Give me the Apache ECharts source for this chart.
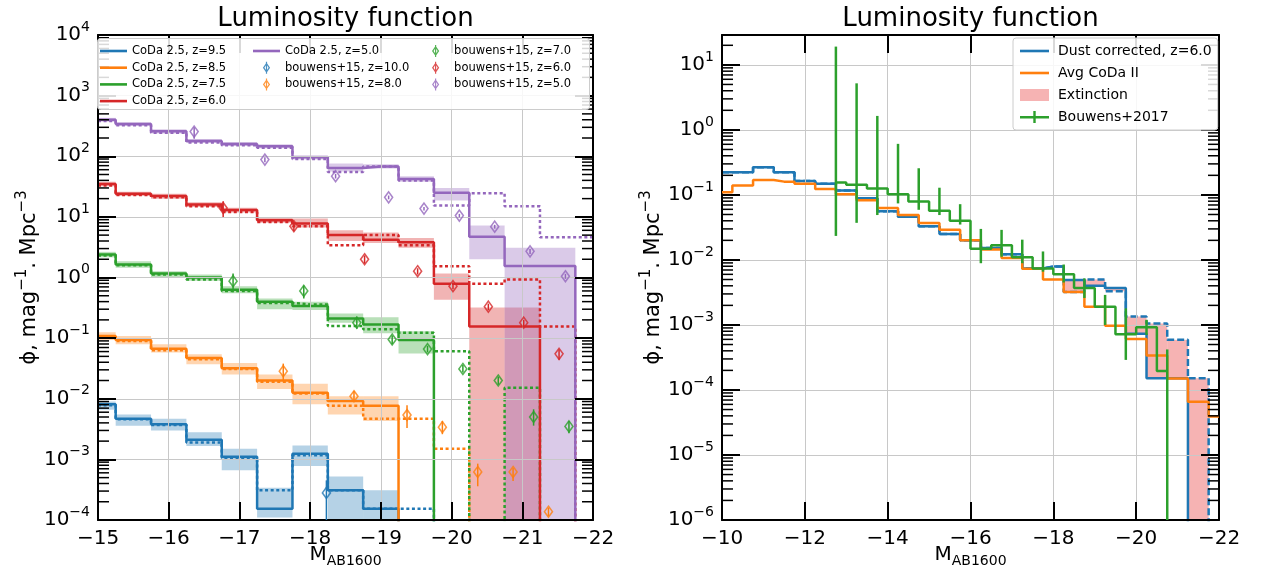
<!DOCTYPE html>
<html><head><meta charset="utf-8">
<script src="https://cdn.jsdelivr.net/npm/echarts@6/dist/echarts.min.js"></script>
<style>html,body{margin:0;padding:0;background:#fff}#c{width:1268px;height:575px}</style>
</head><body><div id="c"></div>
<script>
const Z = 1e-9; // empty bin (below the plotted range)
const BIN = 0.5;

// ---------------- Left panel: CoDa 2.5 (bins of 0.5 mag) ----------------
const binsL = [-15, -15.5, -16, -16.5, -17, -17.5, -18, -18.5, -19, -19.5, -20, -20.5, -21, -21.5, -22];

const z95_solid  = [0.0081, 0.0047, 0.0038, 0.0021, 0.0011, 0.000154, 0.00124, 0.00031, 0.000154, Z, Z, Z, Z, Z, Z];
const z95_dotted = [0.0078, 0.0046, 0.0037, 0.0019, 0.00105, 0.00031, 0.00117, 0.00031, 0.000154, 0.000154, Z, Z, Z, Z, Z];
const z95_lo = [0.0066, 0.0036, 0.0030, 0.00166, 0.00066, 0.00011, 0.00078, Z, Z, null, null, null, null, null, null];
const z95_hi = [0.0090, 0.0055, 0.0047, 0.0028, 0.0015, 0.00034, 0.0017, 0.00052, 0.00031, null, null, null, null, null, null];

const z85_solid  = [0.108, 0.093, 0.067, 0.047, 0.032, 0.020, 0.0126, 0.0092, 0.0077, Z, Z, Z, Z, Z, Z];
const z85_dotted = [0.104, 0.090, 0.063, 0.045, 0.031, 0.019, 0.0122, 0.0077, 0.0047, 0.0047, 0.0015, Z, Z, Z, Z];
const z85_lo = [0.093, 0.079, 0.058, 0.037, 0.025, 0.0145, 0.0081, 0.0055, 0.0043, null, null, null, null, null, null];
const z85_hi = [0.125, 0.108, 0.079, 0.054, 0.039, 0.025, 0.0176, 0.011, 0.011, null, null, null, null, null, null];

const z75_solid  = [2.4, 1.64, 1.16, 1.0, 0.63, 0.40, 0.34, 0.21, 0.168, 0.093, Z, Z, Z, Z, Z];
const z75_dotted = [2.3, 1.6, 1.12, 0.93, 0.60, 0.38, 0.36, 0.158, 0.14, 0.123, 0.061, Z, 0.0152, Z, Z];
const z75_lo = [2.15, 1.45, 1.0, 0.88, 0.55, 0.30, 0.29, 0.18, 0.12, 0.056, null, null, null, null, null];
const z75_hi = [2.65, 1.85, 1.27, 1.12, 0.72, 0.45, 0.40, 0.255, 0.22, 0.13, null, null, null, null, null];

const z60_solid  = [35, 24, 22, 16, 13, 8.8, 7.8, 5.0, 4.2, 3.8, 0.79, 0.155, 0.155, Z, Z];
const z60_dotted = [33, 23, 21, 15, 12, 8.2, 7.0, 3.4, 5.0, 3.4, 1.54, 0.79, 0.93, 0.155, Z];
const z60_lo = [32, 22, 20, 14.5, 11.8, 8.0, 6.7, 4.0, 3.7, 3.1, 0.43, Z, Z, null, null];
const z60_hi = [38, 26, 24, 17.5, 14.2, 9.6, 9.4, 6.0, 5.5, 4.5, 1.16, 0.32, 0.32, null, null];

const z50_solid  = [400, 340, 258, 178, 160, 146, 96, 64, 68, 42, 25, 4.7, 1.55, 1.55, Z];
const z50_dotted = [380, 325, 245, 168, 152, 138, 90, 55, 68, 40, 15.4, 24.6, 15, 4.6, 4.6];
const z50_lo = [370, 315, 238, 165, 148, 135, 88, 56, 63, 38, 18.6, 2.0, Z, Z, null];
const z50_hi = [430, 365, 278, 192, 172, 158, 104, 76, 74, 47, 30, 7.2, 3.1, 3.1, null];

// bouwens+15 points
const b10_mag = [-18.23];
const b10_val = [0.00028];
const b10_lo  = [Z];
const b10_hi  = [0.00045];

const b8_mag = [-17.62, -18.62, -19.37, -19.87, -20.37, -20.87, -21.37];
const b8_val = [0.0285, 0.011, 0.0054, 0.0034, 0.00062, 0.00062, 0.000137];
const b8_lo  = [0.0195, 0.0092, 0.0033, 0.0026, 0.00036, 0.00044, 0.000115];
const b8_hi  = [0.038, 0.0134, 0.0078, 0.0043, 0.00085, 0.00072, 0.00016];

const b7_mag = [-16.91, -17.91, -18.66, -19.16, -19.66, -20.16, -20.66, -21.16, -21.66];
const b7_val = [0.87, 0.60, 0.18, 0.095, 0.066, 0.031, 0.020, 0.005, 0.0035];
const b7_lo  = [0.57, 0.45, 0.143, 0.079, 0.058, 0.027, 0.017, 0.0036, 0.0027];
const b7_hi  = [1.16, 0.74, 0.225, 0.11, 0.075, 0.036, 0.023, 0.0067, 0.0043];

const b6_mag = [-16.77, -17.77, -18.77, -19.52, -20.02, -20.52, -21.02, -21.52, -22.02];
const b6_val = [14, 7.0, 2.0, 1.27, 0.72, 0.33, 0.18, 0.055, 0.0155];
const b6_lo  = [10.0, 5.8, 1.7, 1.12, 0.64, 0.29, 0.155, 0.044, 0.012];
const b6_hi  = [18.1, 8.2, 2.3, 1.42, 0.80, 0.37, 0.20, 0.065, 0.019];

const b5_mag = [-16.36, -17.36, -18.36, -19.11, -19.61, -20.11, -20.61, -21.11, -21.61];
const b5_val = [255, 88, 47, 21, 13.7, 10.5, 6.9, 2.7, 1.05];
const b5_lo  = [194, 80, 43, 19.5, 12.8, 9.8, 6.4, 2.45, 0.95];
const b5_hi  = [301, 96, 51, 22.5, 14.6, 11.2, 7.4, 2.95, 1.15];

// ---------------- Right panel: z = 6 ----------------
const binsR = [-10, -10.5, -11, -11.5, -12, -12.5, -13, -13.5, -14, -14.5, -15, -15.5, -16, -16.5, -17, -17.5, -18, -18.5, -19, -19.5, -20, -20.5, -21, -21.5, -22];
const dust_solid  = [0.224, 0.224, 0.267, 0.224, 0.164, 0.148, 0.117, 0.089, 0.056, 0.046, 0.033, 0.025, 0.020, 0.0152, 0.0122, 0.0074, 0.0079, 0.0049, 0.0040, 0.0037, 0.00073, 0.000151, 0.000151, Z, Z];
const dust_dashed = [0.224, 0.224, 0.267, 0.224, 0.164, 0.148, 0.117, 0.089, 0.056, 0.046, 0.033, 0.025, 0.020, 0.0152, 0.0122, 0.0074, 0.0079, 0.0032, 0.0050, 0.0033, 0.00135, 0.00105, 0.00059, 0.000151, Z];
const avg_coda    = [0.11, 0.139, 0.17, 0.16, 0.148, 0.123, 0.102, 0.083, 0.063, 0.049, 0.037, 0.029, 0.020, 0.0145, 0.0107, 0.0073, 0.0050, 0.0032, 0.0019, 0.00097, 0.00061, 0.00034, 0.00015, 0.000066, 0.000039];

const b17_mag = [-12.75, -13.25, -13.75, -14.25, -14.75, -15.25, -15.75, -16.25, -16.75, -17.25, -17.75, -18.25, -18.75, -19.25, -19.75, -20.25, -20.75];
const b17_val = [0.155, 0.143, 0.126, 0.102, 0.079, 0.057, 0.040, 0.0148, 0.0168, 0.011, 0.0074, 0.0060, 0.0037, 0.0019, 0.00072, 0.00092, 0.000195];
const b17_hi  = [19.1, 5.2, 1.64, 0.61, 0.257, 0.129, 0.072, 0.030, 0.029, 0.0205, 0.0135, 0.0085, 0.0052, 0.0029, 0.0018, 0.0012, 0.00042];
const b17_lo  = [0.0234, 0.0372, 0.049, 0.074, 0.059, 0.049, 0.035, 0.0089, 0.0112, 0.0089, 0.0066, 0.0045, 0.0026, 0.0010, 0.00029, 0.0007, Z];

// tick labels (decade exponents)
const yExpL = [-4, -3, -2, -1, 0, 1, 2, 3, 4];
const yExpR = [-6, -5, -4, -3, -2, -1, 0, 1];

// ---------------- styling helpers ----------------
const FONT = 'DejaVu Sans';
const C = {blue: '#1f77b4', orange: '#ff7f0e', green: '#2ca02c', red: '#d62728', purple: '#9467bd'};
const BAND = {blue: 'rgba(31,119,180,0.33)', orange: 'rgba(255,127,14,0.33)', green: 'rgba(44,160,44,0.33)', red: 'rgba(214,39,40,0.35)', purple: 'rgba(148,103,189,0.35)'};
const LINE_ICON = 'path://M0,0 L27,0 L27,2.6 L0,2.6 Z';
const DIAM_ICON = 'path://M3.4,0 L4.6,0 L4.6,12 L3.4,12 Z M4,0.8 L7.6,6 L4,11.2 L0.4,6 Z M4,2.9 L1.95,6 L4,9.1 L6.05,6 Z';
const EB_ICON = 'path://M0,5 L29,5 L29,7.4 L0,7.4 Z M13.3,0 L15.7,0 L15.7,12 L13.3,12 Z';

function cs2rect(cs) { return {x: cs.x, y: cs.y, width: cs.width, height: cs.height}; }

function stepLine(name, xi, yi, bins, vals, color, dash, z) {
  return {
    name, type: 'line', xAxisIndex: xi, yAxisIndex: yi, step: 'middle',
    symbol: 'none', showSymbol: false, clip: true, z: z,
    data: bins.map((m, i) => [m, vals[i]]),
    lineStyle: {color, width: 2.5, type: dash || 'solid', cap: 'butt'},
    itemStyle: {color}, emphasis: {disabled: true}, silent: true
  };
}
function bandSeries(name, xi, yi, bins, lo, hi, fill, z) {
  const data = [];
  bins.forEach((m, i) => { if (hi[i] != null) data.push([m, lo[i], hi[i]]); });
  return {
    name, type: 'custom', xAxisIndex: xi, yAxisIndex: yi, z: z, silent: true,
    itemStyle: {color: fill}, data,
    renderItem(params, api) {
      const m = api.value(0);
      const p1 = api.coord([m - BIN / 2, api.value(2)]);
      const p2 = api.coord([m + BIN / 2, api.value(1)]);
      const r = echarts.graphic.clipRectByRect({
        x: Math.min(p1[0], p2[0]), y: Math.min(p1[1], p2[1]),
        width: Math.abs(p2[0] - p1[0]), height: Math.abs(p2[1] - p1[1])
      }, cs2rect(params.coordSys));
      return r ? {type: 'rect', shape: r, style: {fill: fill}} : null;
    }
  };
}
function errSeries(xi, yi, mags, lo, hi, color, width, z) {
  return {
    type: 'custom', xAxisIndex: xi, yAxisIndex: yi, silent: true, z: z,
    data: mags.map((m, i) => [m, lo[i], hi[i]]),
    renderItem(params, api) {
      const a = api.coord([api.value(0), api.value(1)]);
      const b = api.coord([api.value(0), api.value(2)]);
      const rc = cs2rect(params.coordSys);
      if (a[0] < rc.x - 1 || a[0] > rc.x + rc.width + 1) return null;
      const p = echarts.graphic.clipPointsByRect([a, b], rc);
      return {type: 'line', shape: {x1: p[0][0], y1: p[0][1], x2: p[1][0], y2: p[1][1]}, style: {stroke: color, lineWidth: width}};
    }
  };
}
function points(name, mags, vals, color) {
  return {
    name, type: 'scatter', xAxisIndex: 0, yAxisIndex: 0, symbol: 'diamond', symbolSize: [8, 11], z: 5,
    data: mags.map((m, i) => [m, vals[i]]), silent: true,
    itemStyle: {color: 'rgba(255,255,255,0)', borderColor: color, borderWidth: 1.6}
  };
}
function minorTicks(xi, yi, xRef, minE, maxE, maxV) {
  const vals = [];
  for (let e = minE; e < maxE; e++) for (let k = 2; k <= 9; k++) { const v = k * Math.pow(10, e); if (v <= maxV) vals.push([xRef, v]); }
  return {
    type: 'custom', xAxisIndex: xi, yAxisIndex: yi, silent: true, z: 6, data: vals,
    renderItem(params, api) {
      const cs = params.coordSys;
      const y = api.coord([api.value(0), api.value(1)])[1];
      const L = 11;
      return {type: 'group', children: [
        {type: 'line', shape: {x1: cs.x, y1: y, x2: cs.x + L, y2: y}, style: {stroke: '#000', lineWidth: 1.5}},
        {type: 'line', shape: {x1: cs.x + cs.width - L, y1: y, x2: cs.x + cs.width, y2: y}, style: {stroke: '#000', lineWidth: 1.5}}
      ]};
    }
  };
}

const xFmt = v => (v < 0 ? '\u2212' : '') + Math.abs(v);
function yFmt(exps) {
  return v => {
    const l = Math.log10(v), e = Math.round(l);
    if (Math.abs(l - e) > 1e-6 || exps.indexOf(e) < 0) return '';
    return '{b|10}{s|' + (e < 0 ? '\u2212' + (-e) : e) + '}';
  };
}
const supRich = {
  b: {fontSize: 20, lineHeight: 30, fontFamily: FONT, color: '#000'},
  s: {fontSize: 14, lineHeight: 14, verticalAlign: 'top', fontFamily: FONT, color: '#000'}
};
const yNameRich = {
  a: {fontSize: 21, lineHeight: 30, fontFamily: FONT, color: '#000'},
  s: {fontSize: 15, lineHeight: 14, verticalAlign: 'top', fontFamily: FONT, color: '#000'}
};
const xNameRich = {
  m: {fontSize: 20, lineHeight: 26, fontFamily: FONT, color: '#000'},
  s: {fontSize: 14, lineHeight: 14, verticalAlign: 'bottom', fontFamily: FONT, color: '#000'}
};

function xAx(grid, min, max, interval, pos, main) {
  return {
    type: 'value', gridIndex: grid, min, max, interval, inverse: true, position: pos, z: 2.5,
    axisLine: {show: true, onZero: false, lineStyle: {color: '#000', width: 2}},
    axisTick: {show: true, inside: true, length: 18, lineStyle: {color: '#000', width: 2}},
    axisLabel: {show: main, fontSize: 20, color: '#000', margin: 9, fontFamily: FONT, formatter: xFmt},
    splitLine: {show: main, lineStyle: {color: '#c8c8c8', width: 1}},
    name: main ? '{m|M}{s|AB1600}' : '', nameLocation: 'middle', nameGap: 22, nameMoveOverlap: false,
    nameTextStyle: {rich: xNameRich}
  };
}
function yAx(grid, min, max, pos, main, exps) {
  return {
    type: 'log', logBase: 10, gridIndex: grid, min, max, position: pos, z: 2.5,
    axisLine: {show: true, onZero: false, lineStyle: {color: '#000', width: 2}},
    axisTick: {show: true, inside: true, length: 18, lineStyle: {color: '#000', width: 2}},
    axisLabel: {show: main, margin: 8, formatter: yFmt(exps), rich: supRich},
    splitLine: {show: main, lineStyle: {color: '#c8c8c8', width: 1}},
    minorTick: {show: false},
    name: main ? '{a|\u03d5, mag}{s|\u22121}{a|. Mpc}{s|\u22123}' : '', nameLocation: 'middle', nameGap: 46,
    nameTextStyle: {rich: yNameRich}
  };
}

// ---------------- series ----------------
const coda = [
  {name: 'CoDa 2.5, z=9.5', c: 'blue', s: z95_solid, d: z95_dotted, lo: z95_lo, hi: z95_hi},
  {name: 'CoDa 2.5, z=8.5', c: 'orange', s: z85_solid, d: z85_dotted, lo: z85_lo, hi: z85_hi},
  {name: 'CoDa 2.5, z=7.5', c: 'green', s: z75_solid, d: z75_dotted, lo: z75_lo, hi: z75_hi},
  {name: 'CoDa 2.5, z=6.0', c: 'red', s: z60_solid, d: z60_dotted, lo: z60_lo, hi: z60_hi},
  {name: 'CoDa 2.5, z=5.0', c: 'purple', s: z50_solid, d: z50_dotted, lo: z50_lo, hi: z50_hi}
];
const bouw = [
  {name: 'bouwens+15, z=10.0', c: 'blue', m: b10_mag, v: b10_val, lo: b10_lo, hi: b10_hi},
  {name: 'bouwens+15, z=8.0', c: 'orange', m: b8_mag, v: b8_val, lo: b8_lo, hi: b8_hi},
  {name: 'bouwens+15, z=7.0', c: 'green', m: b7_mag, v: b7_val, lo: b7_lo, hi: b7_hi},
  {name: 'bouwens+15, z=6.0', c: 'red', m: b6_mag, v: b6_val, lo: b6_lo, hi: b6_hi},
  {name: 'bouwens+15, z=5.0', c: 'purple', m: b5_mag, v: b5_val, lo: b5_lo, hi: b5_hi}
];

const series = [];
coda.forEach(o => {
  series.push(bandSeries('band ' + o.name, 0, 0, binsL, o.lo, o.hi, BAND[o.c], 1));
});
coda.forEach(o => {
  series.push(stepLine(o.name, 0, 0, binsL, o.s, C[o.c], 'solid', 2));
  series.push(stepLine('dotted ' + o.name, 0, 0, binsL, o.d, C[o.c], [3, 2.6], 2));
});
bouw.forEach(o => {
  series.push(errSeries(0, 0, o.m, o.lo, o.hi, C[o.c], 1.5, 4));
  series.push(points(o.name, o.m, o.v, C[o.c]));
});
series.push(minorTicks(0, 0, -16, -4, 4, 1e4));

// right panel
const extLo = dust_solid.map((v, i) => Math.min(v, dust_dashed[i]));
const extHi = dust_solid.map((v, i) => (Math.abs(v - dust_dashed[i]) > 1e-12 ? Math.max(v, dust_dashed[i]) : null));
series.push(bandSeries('Extinction', 2, 2, binsR, extLo, extHi, 'rgba(240,128,128,0.6)', 1));
series.push(stepLine('Dust corrected, z=6.0', 2, 2, binsR, dust_solid, C.blue, 'solid', 2));
series.push(stepLine('dust dashed', 2, 2, binsR, dust_dashed, C.blue, [7, 3], 2));
series.push(stepLine('Avg CoDa II', 2, 2, binsR, avg_coda, C.orange, 'solid', 3));
series.push(stepLine('Bouwens+2017', 2, 2, b17_mag, b17_val, C.green, 'solid', 4));
series.push(errSeries(2, 2, b17_mag, b17_lo, b17_hi, C.green, 2.5, 4));
series.push(minorTicks(2, 2, -12, -6, 2, 28.8));

const legText = {fontSize: 11.5, fontFamily: FONT, color: '#000'};
const legBase = {orient: 'vertical', top: 45, itemWidth: 27, itemHeight: 12, itemGap: 4.7, padding: 0, selectedMode: false, z: 10, textStyle: legText};
const lineItem = (n, c) => ({name: n, icon: LINE_ICON, itemStyle: {color: C[c]}});
const diamItem = (n, c) => ({name: n, icon: DIAM_ICON, itemStyle: {color: C[c], borderWidth: 0}});
const titleStyle = {fontSize: 26, fontWeight: 'normal', color: '#000', fontFamily: FONT};

const option = {
  animation: false,
  backgroundColor: '#fff',
  textStyle: {fontFamily: FONT, color: '#000'},
  title: [
    {text: 'Luminosity function', left: 345.5, top: 6, padding: 0, textAlign: 'center', textStyle: titleStyle},
    {text: 'Luminosity function', left: 970.5, top: 6, padding: 0, textAlign: 'center', textStyle: titleStyle}
  ],
  grid: [
    {left: 98, top: 35, width: 495, height: 485, containLabel: false, outerBoundsMode: 'none'},
    {left: 722, top: 35, width: 497, height: 485, containLabel: false, outerBoundsMode: 'none'}
  ],
  xAxis: [
    xAx(0, -22, -15, 1, 'bottom', true),
    xAx(0, -22, -15, 1, 'top', false),
    xAx(1, -22, -10, 2, 'bottom', true),
    xAx(1, -22, -10, 2, 'top', false)
  ],
  yAxis: [
    yAx(0, 1e-4, 1e4, 'left', true, yExpL),
    yAx(0, 1e-4, 1e4, 'right', false, yExpL),
    yAx(1, 1e-6, 28.8, 'left', true, yExpR),
    yAx(1, 1e-6, 28.8, 'right', false, yExpR)
  ],
  graphic: [
    {type: 'rect', left: 97, top: 38, z: 8, shape: {width: 492, height: 71, r: 3}, style: {fill: 'rgba(255,255,255,0.85)', stroke: '#cccccc', lineWidth: 1}}
  ],
  legend: [
    Object.assign({}, legBase, {left: 100, top: 45, data: coda.slice(0, 4).map(o => lineItem(o.name, o.c))}),
    Object.assign({}, legBase, {left: 253, top: 45, data: [lineItem(coda[4].name, 'purple'), diamItem(bouw[0].name, 'blue'), diamItem(bouw[1].name, 'orange')]}),
    Object.assign({}, legBase, {left: 432, top: 45, data: [diamItem(bouw[2].name, 'green'), diamItem(bouw[3].name, 'red'), diamItem(bouw[4].name, 'purple')]}),
    {orient: 'vertical', left: 1013, top: 38, padding: [6, 6, 6, 7], itemWidth: 29, itemHeight: 12, itemGap: 8,
     backgroundColor: 'rgba(255,255,255,0.85)', borderColor: '#cccccc', borderWidth: 1, borderRadius: 3, selectedMode: false, z: 10,
     textStyle: {fontSize: 14, fontFamily: FONT, color: '#000', padding: [0, 0, 0, 4]},
     data: [
       {name: 'Dust corrected, z=6.0', icon: 'path://M0,0 L29,0 L29,2.6 L0,2.6 Z', itemStyle: {color: C.blue}},
       {name: 'Avg CoDa II', icon: 'path://M0,0 L29,0 L29,2.6 L0,2.6 Z', itemStyle: {color: C.orange}},
       {name: 'Extinction', icon: 'rect', itemStyle: {color: 'rgba(240,128,128,0.6)'}},
       {name: 'Bouwens+2017', icon: EB_ICON, itemStyle: {color: C.green}}
     ]}
  ],
  series
};

const chart = echarts.init(document.getElementById('c'), null, {renderer: 'canvas'});
chart.setOption(option);
</script>
</body></html>
